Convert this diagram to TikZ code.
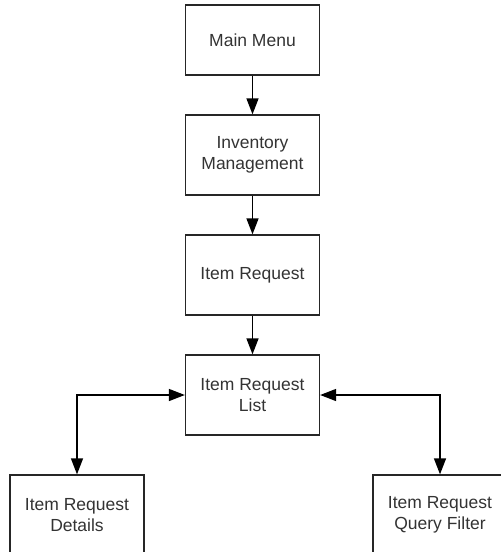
\documentclass[tikz,border=0pt]{standalone}
\usepackage{fontspec}
\setmainfont{Liberation Sans}
\usetikzlibrary{arrows.meta}
\begin{document}
\begin{tikzpicture}[x=1pt,y=-1pt,
  box/.style={draw=black!85,line width=1.3pt,minimum width=134pt,minimum height=80pt,
    inner sep=0pt,align=center,font=\fontsize{17.5}{21}\selectfont,text=black!80},
  conn/.style={draw=black,line width=1.4pt,-{Triangle[length=16pt,width=12pt]}},
  conn2/.style={draw=black,line width=1.4pt,{Triangle[length=16pt,width=12pt]}-{Triangle[length=16pt,width=12pt]}}]
\useasboundingbox (0,0) rectangle (501,552);
\clip (0,0) rectangle (501,552);
\node[box,minimum height=70pt] (mm) at (252.5,40) {Main Menu};
\node[box] (im) at (252.5,155) {Inventory\\Management};
\node[box] (ir) at (252.5,275) {Item Request};
\node[box] (irl) at (252.5,395) {Item Request\\List};
\node[box] (ird) at (77,515) {Item Request\\Details};
\node[box] (irq) at (440,515) {Item Request\\Query Filter};
\draw[conn] (mm) -- (im);
\draw[conn] (im) -- (ir);
\draw[conn] (ir) -- (irl);
\draw[conn2] (irl.west) -| (ird.north);
\draw[conn2] (irl.east) -| (irq.north);
\end{tikzpicture}
\end{document}
